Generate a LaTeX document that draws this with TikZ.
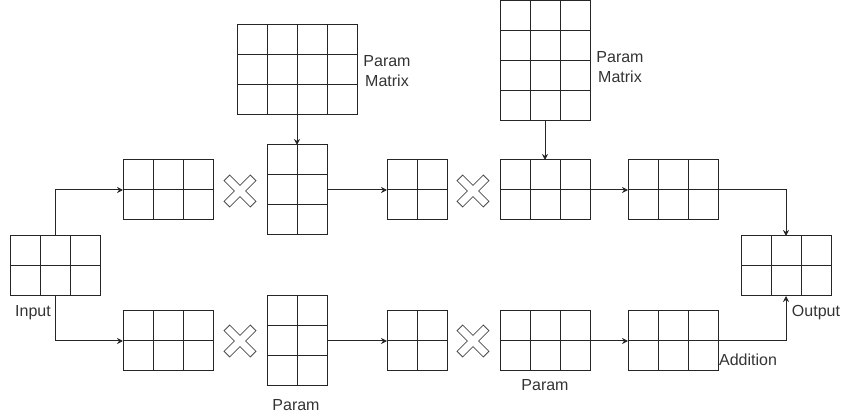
\documentclass[tikz,border=0pt]{standalone}
\usepackage{fontspec}
\setmainfont{Liberation Sans}
\usetikzlibrary{arrows.meta}
\begin{document}
\begin{tikzpicture}[x=1pt,y=-1pt,
  ink/.style={draw=black!85, line width=1pt},
  cells/.style 2 args={ink, inner sep=0pt, outer sep=0pt,
    minimum width=#1*30pt, minimum height=#2*30pt,
    path picture={
      \foreach \i in {1,...,#1}
        \draw[black!85, line width=1pt]
          (\i*30pt-#1*15pt,-#2*15pt) -- (\i*30pt-#1*15pt,#2*15pt);
      \foreach \j in {1,...,#2}
        \draw[black!85, line width=1pt]
          (-#1*15pt,\j*30pt-#2*15pt) -- (#1*15pt,\j*30pt-#2*15pt);}},
  flow/.style={ink, -{Stealth[length=6pt,width=6pt]}},
  lbl/.style={inner sep=0pt, text=black!80,
    font=\fontsize{16}{20}\selectfont, align=center},
  crossmark/.pic={
    \draw[draw=black!70, line width=0.8pt, fill=white, rotate=45]
      (4,18.6) -- (4,4) -- (18.6,4) -- (18.6,-4) -- (4,-4) -- (4,-18.6)
      -- (-4,-18.6) -- (-4,-4) -- (-18.6,-4) -- (-18.6,4) -- (-4,4)
      -- (-4,18.6) -- cycle;}
]
\useasboundingbox (0,0) rectangle (841,419);

% matrices
\node[cells={3}{2}] (in)  at (55,266) {};
\node[cells={3}{2}] (t1)  at (168,190) {};
\node[cells={2}{3}] (tp)  at (297,190) {};
\node[cells={4}{3}] (pm1) at (297,70) {};
\node[cells={2}{2}] (t2)  at (417,190) {};
\node[cells={3}{2}] (t3)  at (545,190) {};
\node[cells={3}{4}] (pm2) at (545,61) {};
\node[cells={3}{2}] (t4)  at (673,190) {};
\node[cells={3}{2}] (out) at (786,266) {};
\node[cells={3}{2}] (b1)  at (168,341) {};
\node[cells={2}{3}] (bp)  at (297,341) {};
\node[cells={2}{2}] (b2)  at (417,341) {};
\node[cells={3}{2}] (b3)  at (545,341) {};
\node[cells={3}{2}] (b4)  at (673,341) {};

% multiplication signs
\pic (x1) at (240,191) {crossmark};
\pic (x2) at (473,191) {crossmark};
\pic (x3) at (240,341) {crossmark};
\pic (x4) at (473,341) {crossmark};

% connectors
\draw[flow] (in.north) |- (t1.west);
\draw[flow] (in.south) |- (b1.west);
\draw[flow] (pm1.south) -- (tp.north);
\draw[flow] (tp.east) -- (t2.west);
\draw[flow] (pm2.south) -- (t3.north);
\draw[flow] (t3.east) -- (t4.west);
\draw[flow] (t4.east) -| (out.north);
\draw[flow] (bp.east) -- (b2.west);
\draw[flow] (b3.east) -- (b4.west);
\draw[flow] (b4.east) -| (out.south);

% labels
\node[lbl, anchor=base] (linput) at (33,317) {Input};
\node[lbl] (lpm1) at (387,71) {Param\\Matrix};
\node[lbl] (lpm2) at (620,67) {Param\\Matrix};
\node[lbl, anchor=base] (lp1) at (296,411) {Param};
\node[lbl, anchor=base] (lp2) at (545,391) {Param};
\node[lbl, anchor=base] (lout) at (816,317) {Output};
\node[lbl, anchor=base] (ladd) at (748,366) {Addition};
\end{tikzpicture}
\end{document}
